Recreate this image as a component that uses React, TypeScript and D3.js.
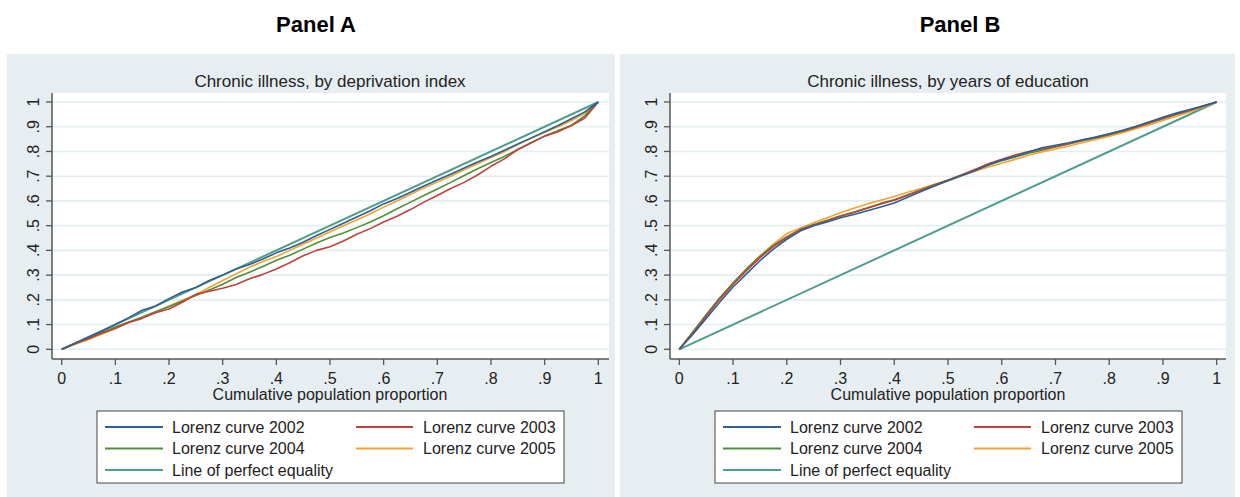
import React from "react";
import * as d3 from "d3";

// Cumulative population proportion (shared x grid for all Lorenz curves)
const POP_SHARE = [
  0, 0.025, 0.05, 0.075, 0.1, 0.125, 0.15, 0.175, 0.2, 0.225,
  0.25, 0.275, 0.3, 0.325, 0.35, 0.375, 0.4, 0.425, 0.45, 0.475,
  0.5, 0.525, 0.55, 0.575, 0.6, 0.625, 0.65, 0.675, 0.7, 0.725,
  0.75, 0.775, 0.8, 0.825, 0.85, 0.875, 0.9, 0.925, 0.95, 0.975, 1,
];

// Panel A: chronic illness ranked by deprivation index
const DEP_2002 = [
  0, 0.024, 0.05, 0.074, 0.1, 0.128, 0.158, 0.175, 0.205, 0.232,
  0.25, 0.278, 0.3, 0.325, 0.343, 0.365, 0.39, 0.41, 0.433, 0.46,
  0.485, 0.51, 0.535, 0.56, 0.588, 0.61, 0.635, 0.66, 0.685, 0.708,
  0.733, 0.757, 0.78, 0.805, 0.83, 0.855, 0.88, 0.905, 0.932, 0.96, 1,
];
const DEP_2003 = [
  0, 0.025, 0.043, 0.065, 0.085, 0.108, 0.125, 0.148, 0.163, 0.19,
  0.222, 0.235, 0.247, 0.262, 0.285, 0.303, 0.325, 0.35, 0.378, 0.4,
  0.415, 0.438, 0.465, 0.488, 0.515, 0.538, 0.565, 0.595, 0.622, 0.65,
  0.675, 0.705, 0.74, 0.77, 0.808, 0.835, 0.862, 0.88, 0.905, 0.935, 1,
];
const DEP_2004 = [
  0, 0.022, 0.045, 0.068, 0.09, 0.11, 0.13, 0.152, 0.172, 0.195,
  0.218, 0.24, 0.263, 0.29, 0.312, 0.335, 0.36, 0.38, 0.405, 0.43,
  0.452, 0.47, 0.492, 0.515, 0.54, 0.568, 0.595, 0.622, 0.648, 0.675,
  0.703, 0.73, 0.755, 0.78, 0.808, 0.835, 0.862, 0.885, 0.905, 0.945, 1,
];
const DEP_2005 = [
  0, 0.02, 0.04, 0.062, 0.083, 0.108, 0.13, 0.152, 0.175, 0.198,
  0.222, 0.25, 0.278, 0.305, 0.332, 0.355, 0.375, 0.4, 0.425, 0.45,
  0.475, 0.5, 0.523, 0.548, 0.575, 0.6, 0.627, 0.652, 0.676, 0.7,
  0.726, 0.75, 0.775, 0.8, 0.828, 0.853, 0.878, 0.9, 0.925, 0.955, 1,
];

// Panel B: chronic illness ranked by years of education
const EDU_2002 = [
  0, 0.06, 0.125, 0.19, 0.252, 0.305, 0.358, 0.405, 0.445, 0.478,
  0.5, 0.515, 0.532, 0.545, 0.56, 0.575, 0.592, 0.615, 0.638, 0.66,
  0.682, 0.702, 0.722, 0.745, 0.765, 0.78, 0.798, 0.815, 0.825, 0.835,
  0.847, 0.858, 0.872, 0.886, 0.902, 0.92, 0.938, 0.955, 0.97, 0.985, 1,
];
const EDU_2003 = [
  0, 0.065, 0.135, 0.202, 0.262, 0.318, 0.37, 0.415, 0.452, 0.483,
  0.502, 0.52, 0.538, 0.553, 0.57, 0.588, 0.603, 0.623, 0.643, 0.664,
  0.684, 0.705, 0.727, 0.75, 0.768, 0.786, 0.8, 0.81, 0.82, 0.832,
  0.845, 0.857, 0.87, 0.884, 0.899, 0.916, 0.934, 0.951, 0.967, 0.984, 1,
];
const EDU_2004 = [
  0, 0.07, 0.14, 0.207, 0.268, 0.325, 0.375, 0.42, 0.455, 0.485,
  0.505, 0.522, 0.54, 0.555, 0.572, 0.59, 0.605, 0.625, 0.645, 0.665,
  0.685, 0.705, 0.725, 0.745, 0.762, 0.778, 0.793, 0.805, 0.818, 0.83,
  0.843, 0.855, 0.868, 0.882, 0.898, 0.915, 0.932, 0.95, 0.966, 0.983, 1,
];
const EDU_2005 = [
  0, 0.068, 0.138, 0.205, 0.268, 0.325, 0.378, 0.425, 0.468, 0.49,
  0.512, 0.532, 0.552, 0.57, 0.588, 0.603, 0.618, 0.635, 0.65, 0.667,
  0.683, 0.702, 0.72, 0.737, 0.752, 0.768, 0.785, 0.798, 0.81, 0.822,
  0.835, 0.848, 0.862, 0.876, 0.892, 0.908, 0.925, 0.942, 0.96, 0.98, 1,
];

// Line of perfect equality
const EQUALITY_X = [0, 1];
const EQUALITY_Y = [0, 1];

// Axis ticks and labels
const TICK_VALUES = [0, 0.1, 0.2, 0.3, 0.4, 0.5, 0.6, 0.7, 0.8, 0.9, 1];
const TICK_LABELS = ["0", ".1", ".2", ".3", ".4", ".5", ".6", ".7", ".8", ".9", "1"];

const SERIES_NAMES = [
  "Lorenz curve 2002",
  "Lorenz curve 2003",
  "Lorenz curve 2004",
  "Lorenz curve 2005",
  "Line of perfect equality",
];
const SERIES_COLORS = ["#2f5f8c", "#bd433d", "#4f8f37", "#f3a234", "#4e9d8e"];

const FONT = "Liberation Sans, Arial, Helvetica, sans-serif";
const BG = "#e6eef1";
const GRID = "#e4eef1";
const AXIS = "#555555";

type PanelProps = {
  heading: string;
  title: string;
  bgLeft: number;
  bgRight: number;
  plotLeft: number;
  plotRight: number;
  xFrom: number;
  xTo: number;
  legendLeft: number;
  legendRight: number;
  headingX: number;
  curves: number[][];
};

const PLOT_TOP = 93;
const PLOT_BOTTOM = 359;
const Y_ZERO = 349.3;
const Y_ONE = 102;

function Panel(p: PanelProps) {
  const x = d3.scaleLinear().domain([0, 1]).range([p.xFrom, p.xTo]);
  const y = d3.scaleLinear().domain([0, 1]).range([Y_ZERO, Y_ONE]);
  const line = d3
    .line<[number, number]>()
    .x((d) => x(d[0]))
    .y((d) => y(d[1]));

  const curvePaths = p.curves.map((ys) =>
    line(POP_SHARE.map((v, i) => [v, ys[i]] as [number, number]))
  );
  const eqPath = line(EQUALITY_X.map((v, i) => [v, EQUALITY_Y[i]] as [number, number]));

  const legendTop = 411;
  const legendBottom = 483;
  const rowY = [427, 448.5, 470];
  const cols = [
    { lx1: 8, lx2: 66, tx: 75 },
    { lx1: 259, lx2: 316, tx: 326 },
  ];
  const legendItems = [
    { i: 0, r: 0, c: 0 },
    { i: 1, r: 0, c: 1 },
    { i: 2, r: 1, c: 0 },
    { i: 3, r: 1, c: 1 },
    { i: 4, r: 2, c: 0 },
  ];

  const plotMid = (p.xFrom + p.xTo) / 2;

  return (
    <g>
      <text
        x={p.headingX}
        y={32}
        textAnchor="middle"
        fontFamily={FONT}
        fontWeight="bold"
        fontSize={22}
        fill="#000"
      >
        {p.heading}
      </text>
      <rect x={p.bgLeft} y={54} width={p.bgRight - p.bgLeft} height={497 - 54} fill={BG} />
      <text x={plotMid} y={87} textAnchor="middle" fontFamily={FONT} fontSize={17} fill="#222">
        {p.title}
      </text>
      <rect
        x={p.plotLeft}
        y={PLOT_TOP}
        width={p.plotRight - p.plotLeft}
        height={PLOT_BOTTOM - PLOT_TOP}
        fill="#ffffff"
      />
      {TICK_VALUES.map((t) => (
        <line
          key={"g" + t}
          x1={p.plotLeft}
          x2={p.plotRight}
          y1={y(t)}
          y2={y(t)}
          stroke={GRID}
          strokeWidth={1.6}
        />
      ))}
      {/* y axis */}
      <line x1={p.plotLeft} x2={p.plotLeft} y1={PLOT_TOP} y2={PLOT_BOTTOM} stroke={AXIS} strokeWidth={1.5} />
      {TICK_VALUES.map((t, i) => (
        <g key={"y" + t}>
          <line x1={p.plotLeft - 6} x2={p.plotLeft} y1={y(t)} y2={y(t)} stroke={AXIS} strokeWidth={1.3} />
          <text
            transform={`translate(${p.plotLeft - 13},${y(t)}) rotate(-90)`}
            textAnchor="middle"
            fontFamily={FONT}
            fontSize={16}
            fill="#222"
          >
            {TICK_LABELS[i]}
          </text>
        </g>
      ))}
      {/* x axis */}
      <line x1={p.plotLeft} x2={p.plotRight} y1={PLOT_BOTTOM} y2={PLOT_BOTTOM} stroke={AXIS} strokeWidth={1.5} />
      {TICK_VALUES.map((t, i) => (
        <g key={"x" + t}>
          <line x1={x(t)} x2={x(t)} y1={PLOT_BOTTOM} y2={PLOT_BOTTOM + 6} stroke={AXIS} strokeWidth={1.3} />
          <text x={x(t)} y={384} textAnchor="middle" fontFamily={FONT} fontSize={16} fill="#222">
            {TICK_LABELS[i]}
          </text>
        </g>
      ))}
      <text x={plotMid} y={400} textAnchor="middle" fontFamily={FONT} fontSize={16} fill="#222">
        Cumulative population proportion
      </text>
      {/* curves */}
      <path d={eqPath || ""} fill="none" stroke={SERIES_COLORS[4]} strokeWidth={2} />
      {[3, 2, 1, 0].map((k) => (
        <path
          key={"c" + k}
          d={curvePaths[k] || ""}
          fill="none"
          stroke={SERIES_COLORS[k]}
          strokeWidth={1.6}
          strokeLinejoin="round"
        />
      ))}
      {/* legend */}
      <rect
        x={p.legendLeft}
        y={legendTop}
        width={p.legendRight - p.legendLeft}
        height={legendBottom - legendTop}
        fill="#ffffff"
        stroke="#444"
        strokeWidth={1}
      />
      {legendItems.map((it) => {
        const c = cols[it.c];
        const yy = rowY[it.r];
        return (
          <g key={"l" + it.i}>
            <line
              x1={p.legendLeft + c.lx1}
              x2={p.legendLeft + c.lx2}
              y1={yy}
              y2={yy}
              stroke={SERIES_COLORS[it.i]}
              strokeWidth={2}
            />
            <text
              x={p.legendLeft + c.tx}
              y={yy + 5.5}
              fontFamily={FONT}
              fontSize={16}
              fill="#222"
            >
              {SERIES_NAMES[it.i]}
            </text>
          </g>
        );
      })}
    </g>
  );
}

export default function App() {
  return (
    <svg
      width={1240}
      height={497}
      style={{ position: "absolute", left: 0, top: 0, background: "#ffffff" }}
    >
      <Panel
        heading="Panel A"
        title="Chronic illness, by deprivation index"
        bgLeft={7}
        bgRight={615}
        plotLeft={52}
        plotRight={609}
        xFrom={61.7}
        xTo={598.3}
        legendLeft={97}
        legendRight={564}
        headingX={316}
        curves={[DEP_2002, DEP_2003, DEP_2004, DEP_2005]}
      />
      <Panel
        heading="Panel B"
        title="Chronic illness, by years of education"
        bgLeft={620}
        bgRight={1235}
        plotLeft={670}
        plotRight={1226}
        xFrom={679.3}
        xTo={1216.7}
        legendLeft={715}
        legendRight={1182}
        headingX={960}
        curves={[EDU_2002, EDU_2003, EDU_2004, EDU_2005]}
      />
    </svg>
  );
}
